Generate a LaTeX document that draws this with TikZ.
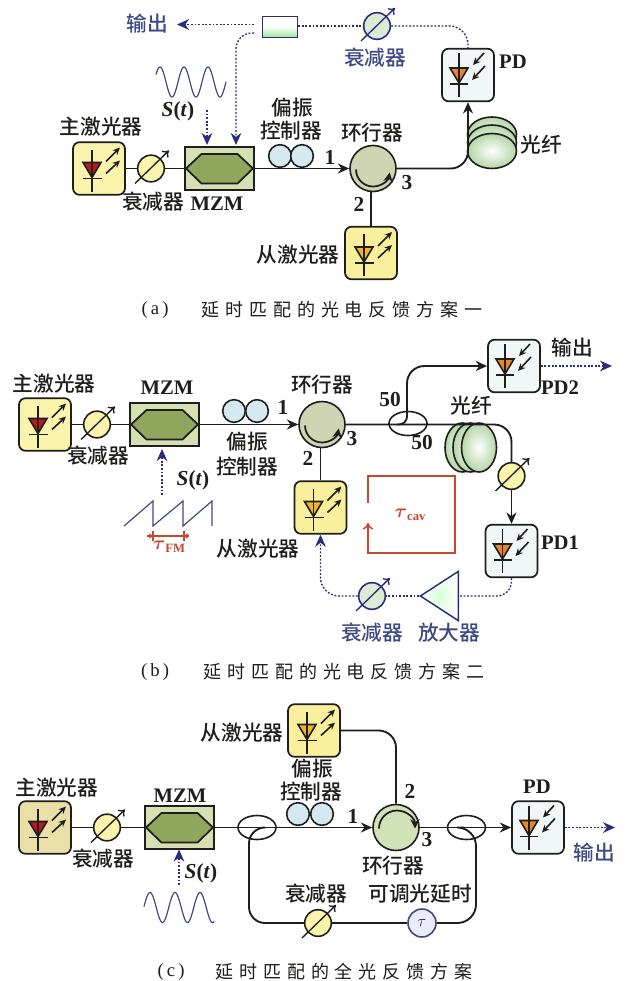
\documentclass[tikz,border=0pt]{standalone}
\usepackage{fontspec}
\usepackage{amsmath}
\setmainfont{Liberation Serif}
\newfontfamily\cjk{Noto Sans CJK SC Medium}
\newfontfamily\capf[LetterSpace=33]{Noto Sans CJK SC}
\usetikzlibrary{arrows.meta,shapes.geometric,shadings,calc}
\definecolor{navy}{HTML}{2A2D7A}
\definecolor{navytxt}{HTML}{3F4A85}
\definecolor{ink}{HTML}{1E1E1C}
\definecolor{redl}{HTML}{C4492F}
\definecolor{ybox}{HTML}{FAF4AC}
\definecolor{ybox2}{HTML}{F9EF9C}
\definecolor{tanbox}{HTML}{EADFA6}
\definecolor{pdbox}{HTML}{F1F6F6}
\definecolor{dred}{HTML}{B8191C}
\definecolor{dyel}{HTML}{F0B52A}
\definecolor{dora}{HTML}{E8872B}
\definecolor{mzin}{HTML}{8FA65C}
\definecolor{mzout}{HTML}{D7E0B4}
\definecolor{pcfill}{HTML}{D4E9F0}
\definecolor{circa}{HTML}{CFD5B2}
\definecolor{circc}{HTML}{D2E2B8}
\definecolor{fibg}{HTML}{B5D6A8}
\definecolor{attg}{HTML}{DCEBD4}
\tikzset{
  px/.style={x=0.75pt,y=-0.75pt},
  fiberl/.style={draw=ink,line width=1.4pt},
  dotl/.style={draw=navy,line width=1pt,dash pattern=on 1.4pt off 1.3pt},
  tipf/.style={-{Stealth[length=8.5pt,width=7.5pt]}},
  tipd/.style={-{Stealth[length=9pt,width=8pt,fill=navy,sep=0pt]}},
  devbox/.style={draw=ink,line width=1.3pt,rounded corners=5pt,minimum width=39pt,minimum height=39.5pt,inner sep=0pt},
  mzmbox/.style={draw=ink,line width=1.3pt,fill=mzout,minimum width=51.5pt,minimum height=32pt,inner sep=0pt},
  hex/.style={draw=ink,line width=1.3pt,fill=mzin},
  attn/.style={circle,line width=1.2pt,minimum size=20pt,inner sep=0pt},
  pcn/.style={circle,draw=ink,line width=1.2pt,fill=pcfill,minimum size=17pt,inner sep=0pt},
  circn/.style={circle,draw=ink,line width=1.2pt,fill=#1,minimum size=34.5pt,inner sep=0pt},
  coup/.style={ellipse,draw=ink,line width=1.2pt,minimum width=28.5pt,minimum height=18pt,inner sep=0pt},
  lab/.style={font=\cjk\fontsize{15.5}{16}\selectfont,text=ink,inner sep=0pt},
  nlab/.style={font=\cjk\fontsize{15.5}{16}\selectfont,text=navytxt,inner sep=0pt},
  lat/.style={font=\fontsize{15.5}{16}\selectfont\bfseries,text=ink,inner sep=0pt},
  stt/.style={font=\fontsize{16}{16}\selectfont\bfseries,text=ink,inner sep=0pt},
  num/.style={font=\fontsize{16}{16}\selectfont\bfseries,text=ink,inner sep=0pt},
  capt/.style={font=\capf\fontsize{13.5}{14}\selectfont,text=ink,inner sep=0pt},
  capl/.style={font=\fontsize{14}{14}\selectfont,text=ink,inner sep=0pt},
  wavel/.style={draw=navytxt,line width=0.9pt},
  fibc/.style={draw=ink,line width=1.2pt,inner color=white,outer color=fibg},
}
\newcommand\St{\textit{S}(\textit{t})}
% laser: name, x, y, box fill, diode fill
\newcommand\LD[5]{%
  \node[devbox,fill=#4] (#1) at (#2,#3) {};
  \begin{scope}[shift={(#1.center)}]
    \draw[line width=1.2pt,draw=ink,fill=#5] (-16,-6) -- (2,-6) -- (-7,9) -- cycle;
    \draw[line width=1.2pt,draw=ink] (-7,-19) -- (-7,23) (-16,10) -- (3,10);
    \draw[line width=1.2pt,draw=ink,-{Stealth[length=5.5pt,width=5pt]}] (7,-7) -- (21,-21);
    \draw[line width=1.2pt,draw=ink,-{Stealth[length=5.5pt,width=5pt]}] (7,5) -- (21,-8);
  \end{scope}}
% photodiode: name, x, y
\newcommand\PDD[3]{%
  \node[devbox,fill=pdbox] (#1) at (#2,#3) {};
  \begin{scope}[shift={(#1.center)}]
    \draw[line width=1.2pt,draw=ink,fill=dora] (-18,-7) -- (0,-7) -- (-9,8) -- cycle;
    \draw[line width=1.2pt,draw=ink] (-9,-22) -- (-9,22) (-18,9) -- (0,9);
    \draw[line width=1.2pt,draw=ink,-{Stealth[length=5.5pt,width=5pt]}] (16,-22) -- (5,-10);
    \draw[line width=1.2pt,draw=ink,-{Stealth[length=5.5pt,width=5pt]}] (17,-9) -- (4,5);
  \end{scope}}
% attenuator: name, x, y, fill, line colour
\newcommand\ATT[5]{%
  \node[attn,draw=#5,fill=#4] (#1) at (#2,#3) {};
  \draw[line width=1pt,draw=#5,-{To[length=4.5pt,width=7pt]}] ($(#1.center)+(-16,15)$) -- ($(#1.center)+(18,-18)$);}
\newcommand\MZMD[2]{%
  \node[mzmbox] (#1) at (#2) {};
  \begin{scope}[shift={(#1.center)}]
    \draw[hex] (-33.5,0) -- (-18,-14.5) -- (18,-14.5) -- (33.5,0) -- (18,15) -- (-18,15) -- cycle;
  \end{scope}}
\newcommand\CIRCLOW[1]{\draw[line width=1.3pt,draw=ink,-{Stealth[length=7pt,width=7pt]}] ($(#1.center)+(-17,1)$) arc[start angle=180,end angle=10,radius=17];}
\newcommand\CIRCUP[1]{\draw[line width=1.3pt,draw=ink,-{Stealth[length=7pt,width=7pt]}] ($(#1.center)+(-17,1)$) arc[start angle=180,end angle=360,radius=18];}
\begin{document}
\begin{tikzpicture}[px]
\useasboundingbox (0,0) rectangle (626,981);
\fill[white] (0,0) rectangle (626,981);

%================ (a)
\LD{mla}{99}{168.5}{ybox}{dred}
\ATT{ata}{151}{168.5}{ybox}{ink}
\MZMD{mza}{219.5,168.5}
\node[pcn] (pca) at (280,156) {};
\node[pcn] (pcb) at (302,156) {};
\node[circn=circa] (cia) at (373,168.5) {};
\CIRCLOW{cia}
\LD{sla}{371}{253}{ybox2}{dyel}
\PDD{pda}{468}{75}
\path[fibc] (492,134.5) ellipse [x radius=24.5,y radius=17.5];
\path[fibc] (492,142.5) ellipse [x radius=24.5,y radius=17.5];
\path[fibc] (492,151) ellipse [x radius=24.5,y radius=17.5];
\draw[fiberl] (mla.east) -- (ata.west);
\draw[fiberl] (ata.east) -- (mza.west);
\coordinate (cina) at (cia.west);
\draw[fiberl,tipf] (mza.east) -- (cina);
\draw[fiberl] (cia.south -| sla.north) -- (sla.north);
\coordinate (pdina) at (pda.south);
\draw[fiberl,tipf,rounded corners=13pt] (cia.east) -| (pdina);
\node[draw=navy,line width=1.2pt,minimum width=26pt,minimum height=16pt,inner sep=0pt,top color=white,bottom color=green!35!white!90!black,middle color=white] (fba) at (280,27) {};
\ATT{atb}{377}{26}{attg}{navy}
\coordinate (outa) at (177,24.5);
\coordinate (fbl1) at (254,24.5);
\coordinate (fbl2) at (254,33);
\coordinate (mz1) at (236,145);
\coordinate (st1) at (207,110);
\coordinate (st2) at (207,145);
\draw[dotl] (fba.east |- atb.center) -- (atb.west);
\draw[dotl,rounded corners=14pt] (atb.east) -| (pda.north);
\draw[dotl,tipd] (fbl1) -- (outa);
\draw[dotl,tipd,rounded corners=12pt] (fbl2) -| (mz1);
\draw[dotl,tipd] (st1) -- (st2);
\draw[wavel] plot[domain=156:226,samples=90,smooth] (\x,{82-15*cos(15*(\x-160))});
\node[nlab] (ta1) at (147,24) {输出};
\node[nlab] (ta2) at (375,58) {衰减器};
\node[lab] (ta3) at (101,127) {主激光器};
\node[lab] (ta4) at (153,202) {衰减器};
\node[lat] (ta5) at (217,204) {MZM};
\node[stt] (ta6) at (178,111) {\St};
\node[lab] (ta7) at (292,108) {偏振};
\node[lab] (ta8) at (291,131) {控制器};
\node[lab] (ta9) at (372,133) {环行器};
\node[num] (ta10) at (330,157) {1};
\node[num] (ta11) at (359,204) {2};
\node[num] (ta12) at (407,183) {3};
\node[lab] (ta13) at (298,255) {从激光器};
\node[lat] (ta14) at (513,62) {PD};
\node[lab] (ta15) at (541,145) {光纤};
\node[capl] (ca1) at (155,310) {(\,a\,)};
\node[capt] (ca2) at (342,310) {延时匹配的光电反馈方案一};

%================ (b)
\LD{mlb}{45}{424.5}{ybox}{dred}
\ATT{atc}{97}{424.5}{ybox}{ink}
\MZMD{mzb}{164.5,424.5}
\node[pcn] (pcc) at (234,411) {};
\node[pcn] (pcd) at (257,411) {};
\node[circn=circa] (cib) at (322,424.5) {};
\CIRCLOW{cib}
\LD{slb}{320.5}{507.5}{ybox2}{dyel}
\PDD{pdb}{514}{366}
\PDD{pdc}{511.5}{551}
\path[fibc] (462.5,447.5) ellipse [x radius=17.5,y radius=24.5];
\path[fibc] (470.5,447.5) ellipse [x radius=17.5,y radius=24.5];
\path[fibc] (479,447.5) ellipse [x radius=17.5,y radius=24.5];
\ATT{atd}{511.5}{476}{ybox}{ink}
\node[coup] (cpa) at (408,423.5) {};
\draw[fiberl] (mlb.east) -- (atc.west);
\draw[fiberl] (atc.east) -- (mzb.west);
\draw[fiberl,tipf] (mzb.east) -- (cib.west);
\draw[fiberl] (cib.south -| slb.north) -- (slb.north);
\coordinate (bcorn) at (atd.north);
\draw[fiberl,rounded corners=13pt] (cib.east) -| (bcorn);
\draw[fiberl,tipf] (atd.south) -- (pdc.north);
\coordinate (cpt) at (397,424.5);
\coordinate (cpu) at (407,366);
\draw[fiberl,rounded corners=6pt] (cpt) -- (407,424.5) -- (407,405);
\draw[fiberl,tipf,rounded corners=13pt] (407,410) -- (cpu) -- (pdb.west);
\coordinate (outb) at (612,366);
\draw[dotl,tipd] (pdb.east) -- (outb);
\node[isosceles triangle,isosceles triangle apex angle=66,draw=navy,line width=1.1pt,shape border rotate=180,minimum height=28.5pt,inner sep=0pt,inner color=green!15!white,outer color=white] (amp) at (445,596) {};
\ATT{ate}{372}{596}{attg}{navy}
\draw[dotl,rounded corners=11pt] (pdc.south) |- (amp.east |- ate.center);
\draw[dotl] (amp.apex) -- (ate.east);
\draw[dotl,tipd,rounded corners=14pt] (ate.west) -| (slb.south);
\coordinate (stb1) at (162,495);
\coordinate (stb2) at (162,449);
\draw[dotl,tipd] (stb1) -- (stb2);
\draw[wavel] (124,526) -- (153,501) -- (153,526) -- (183,501) -- (183,526) -- (212,501) -- (212,526);
\draw[redl,line width=1.1pt,-{Stealth[length=4pt,width=4pt]}] (147,536) -- (154,536);
\draw[redl,line width=1.1pt,-{Stealth[length=4pt,width=4pt]}] (189,536) -- (183,536);
\draw[redl,line width=1.1pt] (150,536) -- (186,536) (153,531) -- (153,541) (184,531) -- (184,541);
\draw[redl,line width=1.1pt,-{To[length=5pt,width=8pt]}] (368,503) -- (368,476) -- (455,476) -- (455,553) -- (368,553) -- (368,523);
\node[font=\fontsize{15}{15}\selectfont\bfseries,text=redl,inner sep=0pt] (tb1) at (410,515) {{\boldmath$\tau$}\raisebox{-0.3ex}{\fontsize{9.5}{10}\selectfont cav}};
\node[font=\fontsize{15}{15}\selectfont\bfseries,text=redl,inner sep=0pt] (tb2) at (169,547) {{\boldmath$\tau$}\raisebox{-0.3ex}{\fontsize{9.5}{10}\selectfont FM}};
\node[lab] (tb3) at (54,384) {主激光器};
\node[lab] (tb4) at (98,456) {衰减器};
\node[lat] (tb5) at (167,388) {MZM};
\node[lab] (tb6) at (247,442) {偏振};
\node[lab] (tb7) at (247,467) {控制器};
\node[stt] (tb8) at (193,480) {\St};
\node[lab] (tb9) at (258,549) {从激光器};
\node[lab] (tb10) at (322,385) {环行器};
\node[num] (tb11) at (283,407) {1};
\node[num] (tb12) at (308,458) {2};
\node[num] (tb13) at (352,439) {3};
\node[num] (tb14) at (390,400) {50};
\node[num] (tb15) at (422,443) {50};
\node[lab] (tb16) at (471,406) {光纤};
\node[lab] (tb17) at (572,348) {输出};
\node[lat] (tb18) at (560,388) {PD2};
\node[lat] (tb19) at (560,543) {PD1};
\node[nlab] (tb20) at (372,633) {衰减器};
\node[nlab] (tb21) at (449,633) {放大器};
\node[capl] (cb1) at (155,672) {(\,b\,)};
\node[capt] (cb2) at (344,672) {延时匹配的光电反馈方案二};

%================ (c)
\LD{mlc}{45}{827.5}{tanbox}{dred}
\ATT{atf}{107}{827.5}{ybox}{ink}
\MZMD{mzc}{179.5,827.5}
\node[pcn] (pce) at (298,814) {};
\node[pcn] (pcf) at (322,814) {};
\node[circn=circc] (cic) at (396,827.5) {};
\CIRCUP{cic}
\LD{slc}{314}{730.5}{ybox2}{dyel}
\PDD{pdd}{538}{827.5}
\node[coup] (cpb) at (257,827.5) {};
\node[coup] (cpc) at (466.5,827.5) {};
\ATT{atg}{318}{923}{ybox}{ink}
\node[circle,draw=navytxt,line width=1.2pt,fill=blue!8!white,minimum size=21pt,inner sep=0pt,font=\fontsize{13}{13}\selectfont,text=ink] (tau) at (422,923) {$\tau$};
\draw[fiberl] (mlc.east) -- (atf.west);
\draw[fiberl] (atf.east) -- (mzc.west);
\draw[fiberl,tipf] (mzc.east) -- (cic.west);
\draw[fiberl,rounded corners=13pt] (slc.east) -| (cic.north);
\draw[fiberl,tipf] (cic.east) -- (pdd.west);
\coordinate (cbin) at (262,827.5);
\draw[fiberl,rounded corners=12pt] (cbin) -- (249,827.5) |- (atg.west);
\draw[fiberl] (atg.east) -- (tau.west);
\coordinate (ccin) at (464,827.5);
\draw[fiberl,rounded corners=14pt] (tau.east) -- (476,923) -- (476,827.5) -- (ccin);
\coordinate (outc) at (615,827.5);
\draw[dotl,tipd] (pdd.east) -- (outc);
\coordinate (stc1) at (179,885);
\coordinate (stc2) at (179,849.5);
\draw[dotl,tipd] (stc1) -- (stc2);
\draw[wavel] plot[domain=144:214,samples=90,smooth] (\x,{907.5-15*cos(14.4*(\x-150))});
\node[lab] (tc1) at (57,788) {主激光器};
\node[lab] (tc2) at (103,859) {衰减器};
\node[lat] (tc3) at (180,796) {MZM};
\node[stt] (tc4) at (201,873) {\St};
\node[lab] (tc5) at (242,733) {从激光器};
\node[lab] (tc6) at (312,769) {偏振};
\node[lab] (tc7) at (311,792) {控制器};
\node[num] (tc8) at (353,816) {1};
\node[num] (tc9) at (410,791) {2};
\node[num] (tc10) at (427,840) {3};
\node[lab] (tc11) at (393,866) {环行器};
\node[lab] (tc12) at (316,894) {衰减器};
\node[lab] (tc13) at (420,894) {可调光延时};
\node[lat] (tc14) at (537,787) {PD};
\node[nlab] (tc15) at (594,853) {输出};
\node[capl] (cc1) at (171,972) {(\,c\,)};
\node[capt] (cc2) at (344,972) {延时匹配的全光反馈方案};
\end{tikzpicture}
\end{document}
